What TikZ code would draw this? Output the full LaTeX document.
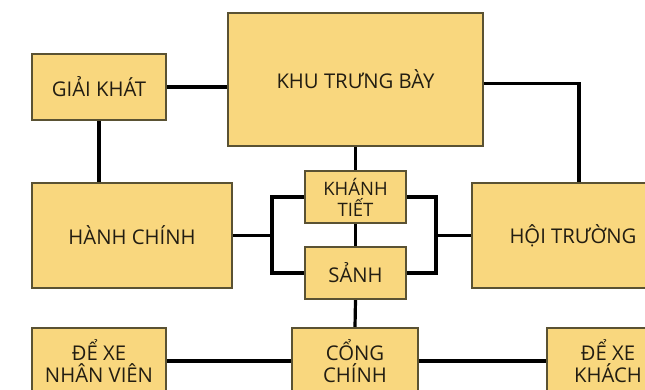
\documentclass[tikz,border=0pt]{standalone}
\usepackage{fontspec}
\setmainfont{Open Sans}
\usepackage{tikz}
\definecolor{boxfill}{HTML}{F9D77E}
\definecolor{boxline}{HTML}{5A5233}
\definecolor{boxtext}{HTML}{221D12}

\begin{document}
\begin{tikzpicture}[x=1pt,y=-1pt,
    room/.style={draw=boxline,line width=2.2pt,fill=boxfill,text=boxtext,
      align=center,inner sep=0pt,font=\fontsize{20.3}{22.5}\selectfont},
    link/.style={line width=3.2pt,black}]
  \useasboundingbox (0,0) rectangle (645,389);
  \clip (0,0) rectangle (645,389);
  % rooms
  \node[room,minimum width=134pt,minimum height=66pt] (giai) at (99,87) {GIẢI KHÁT};
  \node[room,minimum width=255pt,minimum height=133pt] (khu) at (355.5,79.5) {KHU TRƯNG BÀY};
  \node[room,minimum width=200pt,minimum height=105pt] (hanh) at (132,235.5) {HÀNH CHÍNH};
  \node[room,minimum width=101pt,minimum height=52pt,font=\fontsize{18.5}{21}\selectfont] (khanh) at (355.5,197) {KHÁNH\\TIẾT};
  \node[room,minimum width=101pt,minimum height=52pt] (sanh) at (355.5,273) {SẢNH};
  \node[room,minimum width=202pt,minimum height=105pt] (hoi) at (573,235.5) {HỘI TRƯỜNG};
  \node[room,minimum width=134pt,minimum height=66pt] (nv) at (99,361) {ĐỂ XE\\NHÂN VIÊN};
  \node[room,minimum width=126pt,minimum height=66pt] (cong) at (355,361) {CỔNG\\CHÍNH};
  \node[room,minimum width=122pt,minimum height=66pt] (khach) at (608,361) {ĐỂ XE\\KHÁCH};
  % junctions
  \coordinate (jl) at (272,235.5);
  \coordinate (jr) at (436,235.5);
  % links
  \draw[link] (giai.east) -- (giai.east -| khu.west);
  \draw[link] (giai.south) -- (giai.south |- hanh.north);
  \draw[link] ([yshift=-4pt]khu.east) -| ([xshift=6pt]hoi.north);
  \draw[link] (khu.south) -- (khanh.north);
  \draw[link] (khanh.south) -- (sanh.north);
  \draw[link] (sanh.south) -- (cong.north);
  \draw[link] (khanh.west) -| (jl) |- (sanh.west);
  \draw[link] (hanh.east) -- (jl);
  \draw[link] (khanh.east) -| (jr) |- (sanh.east);
  \draw[link] (jr) -- (hoi.west);
  \draw[link] (nv.east) -- (cong.west);
  \draw[link] (cong.east) -- (khach.west);
\end{tikzpicture}
\end{document}
